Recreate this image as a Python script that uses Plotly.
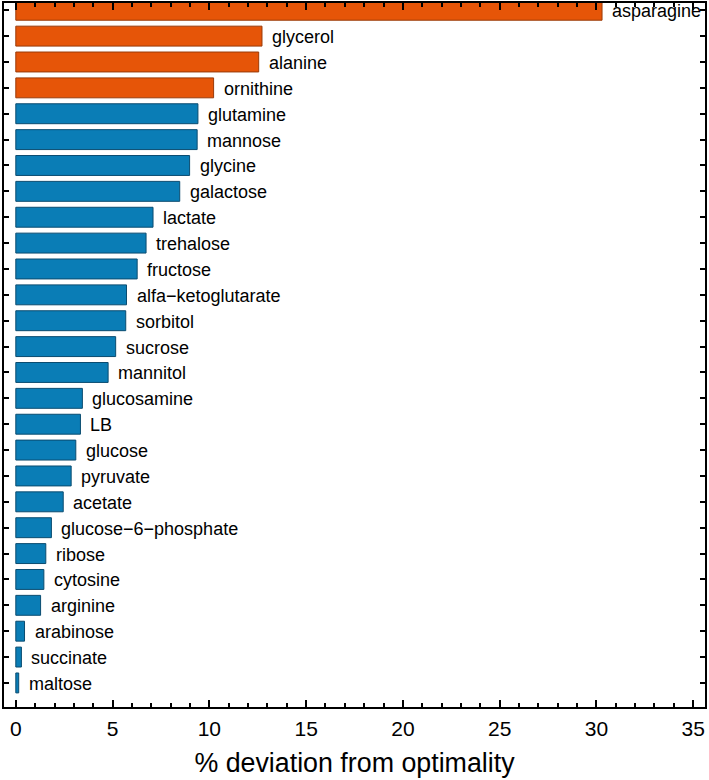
import plotly.graph_objects as go

categories = ["asparagine", "glycerol", "alanine", "ornithine", "glutamine", "mannose",
              "glycine", "galactose", "lactate", "trehalose", "fructose",
              "alfa\u2212ketoglutarate", "sorbitol", "sucrose", "mannitol", "glucosamine",
              "LB", "glucose", "pyruvate", "acetate", "glucose\u22126\u2212phosphate",
              "ribose", "cytosine", "arginine", "arabinose", "succinate", "maltose"]
values = [30.29, 12.72, 12.55, 10.22, 9.41, 9.37, 8.98, 8.47, 7.09, 6.73, 6.27,
          5.72, 5.68, 5.16, 4.77, 3.44, 3.34, 3.10, 2.86, 2.45, 1.84, 1.55, 1.45,
          1.28, 0.45, 0.29, 0.15]
groups = ["high"] * 4 + ["low"] * 23

ORANGE = "#E65508"
ORANGE_EDGE = "#9A3A08"
BLUE = "#0A7DB6"
BLUE_EDGE = "#0A4C70"

fill = [ORANGE if g == "high" else BLUE for g in groups]
edge = [ORANGE_EDGE if g == "high" else BLUE_EDGE for g in groups]

fig = go.Figure()
fig.add_trace(go.Bar(
    x=values, y=categories, orientation="h", width=0.77,
    marker=dict(color=fill, line=dict(color=edge, width=1)),
    showlegend=False, hoverinfo="x+y",
))

for c, v in zip(categories, values):
    fig.add_annotation(x=v, y=c, text=c, xanchor="left", yanchor="middle",
                       xshift=8, yshift=-1, showarrow=False,
                       font=dict(size=18, color="black",
                                 family="Liberation Sans, Arial, sans-serif"))

fig.update_layout(
    width=709, height=780,
    margin=dict(l=4, r=4, t=3, b=73),
    plot_bgcolor="white", paper_bgcolor="white",
    font=dict(family="Liberation Sans, Arial, sans-serif", color="black"),
    xaxis=dict(
        range=[-0.61, 35.61], tickvals=[0, 5, 10, 15, 20, 25, 30, 35],
        ticks="inside", ticklen=7, tickwidth=2, tickcolor="black",
        minor=dict(dtick=1, ticks="inside", ticklen=4, tickwidth=1.5, tickcolor="black"),
        showline=True, linewidth=2, linecolor="black", mirror="ticks",
        showgrid=False, zeroline=False, automargin=False,
        tickfont=dict(size=21, color="black"),
        ticklabelstandoff=2,
        title=dict(text="% deviation from optimality", font=dict(size=26.8, color="black"),
                   standoff=14),
    ),
    yaxis=dict(
        type="category", categoryorder="array", categoryarray=categories,
        range=[26.93, -0.28],
        ticks="inside", ticklen=5, tickwidth=2, tickcolor="black",
        showticklabels=False, automargin=False,
        showline=True, linewidth=2, linecolor="black", mirror="ticks",
        showgrid=False, zeroline=False,
    ),
)

fig.write_html("out.html", config={"displayModeBar": False},
               post_script="document.body.style.margin='0px';")
